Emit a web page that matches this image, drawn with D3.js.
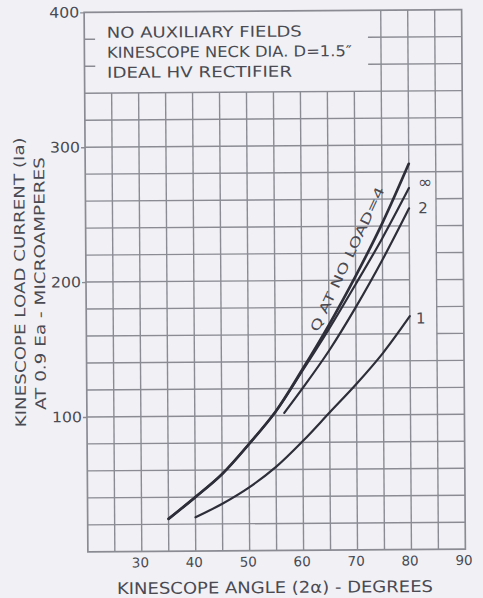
<!DOCTYPE html>
<html>
<head>
<meta charset="utf-8">
<script src="https://cdn.jsdelivr.net/npm/d3@7"></script>
<style>
  html, body { margin: 0; padding: 0; background: #f1f1f5; }
  svg { display: block; }
</style>
</head>
<body>
<svg id="chart" width="483" height="598"></svg>
<script>
// Axis ticks
const xTicks = [30, 40, 50, 60, 70, 80, 90];
const yTicks = [100, 200, 300, 400];

// Kinescope load current (µA at 0.9 Ea) against kinescope angle (degrees),
// one curve per Q at no load
const angleQ4 = [35, 40, 45, 50, 55, 60, 65, 70, 75, 80];
const currentQ4 = [24, 40, 57, 79, 103, 134, 167, 203, 242, 286];

const angleQinf = [35, 40, 45, 50, 55, 60, 65, 70, 75, 80];
const currentQinf = [24, 40, 57, 79, 103, 133, 164, 197, 231, 268];

const angleQ2 = [56.6, 60, 65, 70, 75, 80];
const currentQ2 = [102, 120, 148, 180, 215, 253];

const angleQ1 = [40, 45, 50, 55, 60, 65, 70, 75, 80];
const currentQ1 = [25, 35, 47, 62, 81, 102, 123, 146, 173];

// Curve end labels and their anchor points (angle, current)
const endLabels = ["\u221E", "2", "1"];
const endLabelAngle = [83.0, 82.6, 82.0];
const endLabelCurrent = [272.5, 253.3, 171.6];

const noteLines = ["NO AUXILIARY FIELDS", "KINESCOPE NECK DIA. D=1.5\u2033", "IDEAL HV RECTIFIER"];
const xTitle = "KINESCOPE ANGLE (2\u03B1) - DEGREES";
const yTitle1 = "KINESCOPE LOAD CURRENT (Ia)";
const yTitle2 = "AT 0.9 Ea - MICROAMPERES";
const curveLabel = "Q AT NO LOAD=4";

// ---------------------------------------------------------------
const font = "'DejaVu Sans', Verdana, sans-serif";
const gridColor = "#8b8b94";
const inkColor = "#2e2e3a";
const textColor = "#4a4a53";

const svg = d3.select("#chart");
// the sheet sits very slightly rotated
const g = svg.append("g").attr("transform", "rotate(-0.4 275 281)");

const x = d3.scaleLinear().domain([20, 90]).range([86, 463.5]);
const y = d3.scaleLinear().domain([0, 400]).range([550.5, 11]);

// grid: 5-degree columns, 20 µA rows, left open behind the note and the curve labels
const grid = g.append("g")
  .attr("stroke", gridColor)
  .attr("stroke-width", 1.4)
  .attr("fill", "none");

d3.range(25, 90, 5).forEach(v => {
  const top = v < 75 ? 340 : 400;
  grid.append("line")
    .attr("x1", x(v)).attr("x2", x(v))
    .attr("y1", y(0)).attr("y2", y(top));
});

d3.range(20, 400, 20).forEach(h => {
  let segs;
  if (h >= 360) segs = [[20, 22], [72.6, 90]];
  else if (h >= 160 && h <= 260) segs = [[20, 80], [85, 90]];
  else segs = [[20, 90]];
  segs.forEach(([a, b]) => {
    grid.append("line")
      .attr("x1", x(a)).attr("x2", x(b))
      .attr("y1", y(h)).attr("y2", y(h));
  });
});

// plot frame
g.append("rect")
  .attr("x", x(20)).attr("y", y(400))
  .attr("width", x(90) - x(20)).attr("height", y(0) - y(400))
  .attr("fill", "none")
  .attr("stroke", gridColor)
  .attr("stroke-width", 1.7);

// y axis
const yAxis = g.append("g")
  .attr("transform", `translate(${x(20)},0)`)
  .call(d3.axisLeft(y).tickValues(yTicks).tickSize(4).tickPadding(1).tickFormat(d3.format("d")));
yAxis.select(".domain").remove();
yAxis.selectAll(".tick line").attr("stroke", gridColor).attr("stroke-width", 1.4);
yAxis.selectAll(".tick text")
  .attr("fill", textColor)
  .attr("font-family", font)
  .attr("font-size", 14.5)
  .attr("textLength", 30)
  .attr("lengthAdjust", "spacingAndGlyphs");

// x axis
const xAxis = g.append("g")
  .attr("transform", `translate(0,${y(0)})`)
  .call(d3.axisBottom(x).tickValues(xTicks).tickSize(0).tickPadding(6.3).tickFormat(d3.format("d")));
xAxis.select(".domain").remove();
xAxis.selectAll(".tick text")
  .attr("fill", textColor)
  .attr("font-family", font)
  .attr("font-size", 13.5)
  .attr("dx", -2);

// curves
const line = d3.line()
  .x(d => x(d[0]))
  .y(d => y(d[1]))
  .curve(d3.curveCatmullRom.alpha(0.5));

const curves = [
  { a: angleQ1, c: currentQ1, w: 2.2 },
  { a: angleQ2, c: currentQ2, w: 2.2 },
  { a: angleQinf, c: currentQinf, w: 2.2 },
  { a: angleQ4, c: currentQ4, w: 2.7 }
];
g.append("g").selectAll("path")
  .data(curves)
  .join("path")
  .attr("d", s => line(d3.zip(s.a, s.c)))
  .attr("fill", "none")
  .attr("stroke", inkColor)
  .attr("stroke-width", s => s.w)
  .attr("stroke-linecap", "round");

// curve labels
g.append("g").selectAll("text")
  .data(endLabels)
  .join("text")
  .attr("x", (d, i) => x(endLabelAngle[i]))
  .attr("y", (d, i) => y(endLabelCurrent[i]))
  .attr("dy", "0.36em")
  .attr("text-anchor", "middle")
  .attr("fill", textColor)
  .attr("font-family", font)
  .attr("font-size", (d, i) => i === 0 ? 17 : 15)
  .text(d => d);

// label written along the Q = 4 curve, set just off its upper-left side
const labAng = -64.6;
const labRad = labAng * Math.PI / 180;
const labGap = 5;
const lx = x(63.8) + labGap * Math.sin(labRad);
const ly = y(159.6) - labGap * Math.cos(labRad);
g.append("text")
  .attr("transform", `translate(${lx},${ly}) rotate(${labAng})`)
  .attr("fill", textColor)
  .attr("font-family", font)
  .attr("font-size", 13)
  .attr("textLength", 158)
  .attr("lengthAdjust", "spacingAndGlyphs")
  .text(curveLabel);

// note block in the upper left of the grid
const noteBase = [36.7, 56.7, 76.7];
const noteLen = [195, 245, 185];
g.append("g").selectAll("text")
  .data(noteLines)
  .join("text")
  .attr("x", 108.5)
  .attr("y", (d, i) => noteBase[i])
  .attr("fill", textColor)
  .attr("font-family", font)
  .attr("font-size", 15)
  .attr("textLength", (d, i) => noteLen[i])
  .attr("lengthAdjust", "spacingAndGlyphs")
  .text(d => d);

// axis titles
g.append("text")
  .attr("x", 272.8).attr("y", 593)
  .attr("text-anchor", "middle")
  .attr("fill", textColor)
  .attr("font-family", font)
  .attr("font-size", 16)
  .attr("textLength", 316)
  .attr("lengthAdjust", "spacingAndGlyphs")
  .text(xTitle);

g.append("text")
  .attr("transform", "translate(25,280.5) rotate(-90)")
  .attr("text-anchor", "middle")
  .attr("fill", textColor)
  .attr("font-family", font)
  .attr("font-size", 14.5)
  .attr("textLength", 290)
  .attr("lengthAdjust", "spacingAndGlyphs")
  .text(yTitle1);

g.append("text")
  .attr("transform", "translate(45,282) rotate(-90)")
  .attr("text-anchor", "middle")
  .attr("fill", textColor)
  .attr("font-family", font)
  .attr("font-size", 14.5)
  .attr("textLength", 253)
  .attr("lengthAdjust", "spacingAndGlyphs")
  .text(yTitle2);
</script>
</body>
</html>
